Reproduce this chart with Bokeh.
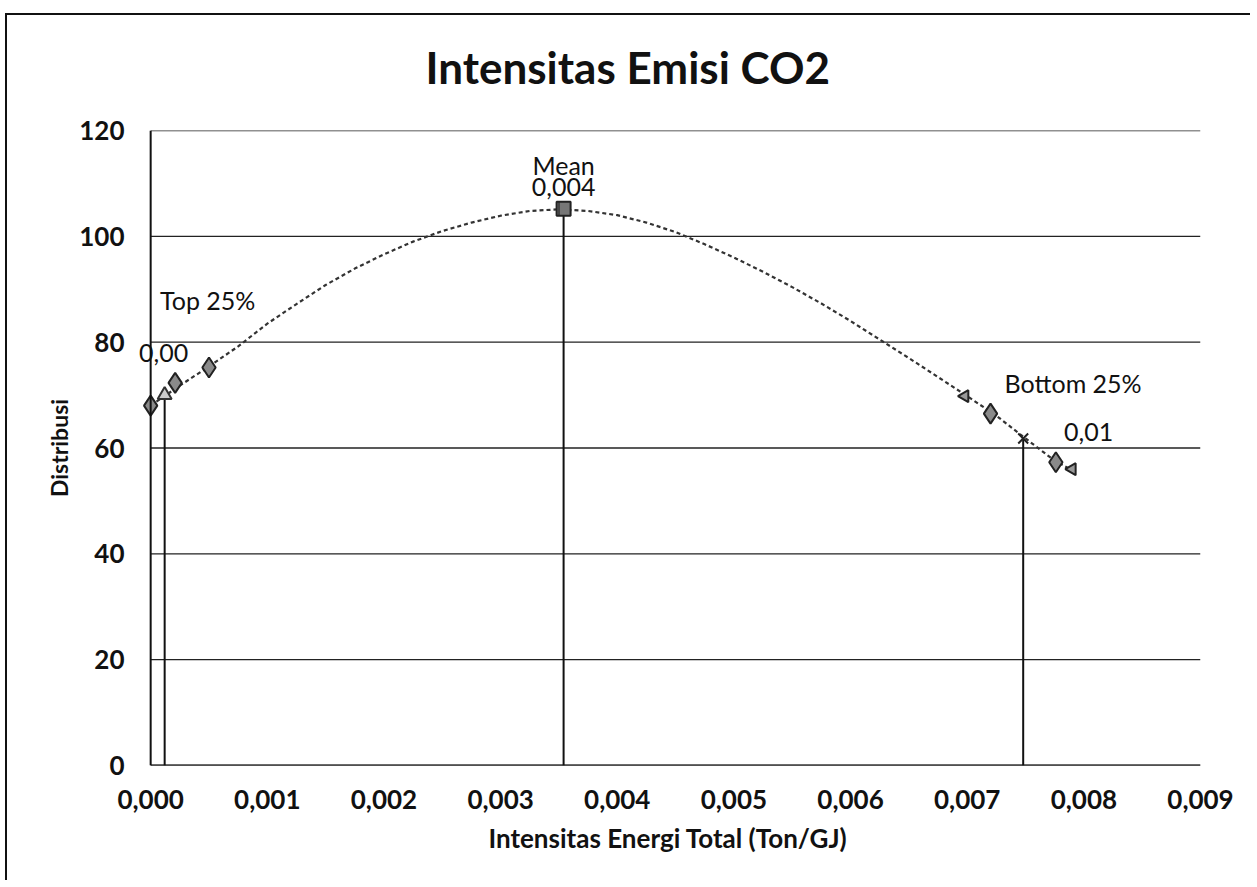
from bokeh.plotting import figure
from bokeh.models import Range1d, FixedTicker, Label, Span
from bokeh.embed import file_html
from bokeh.resources import INLINE

# ---- data ----
curve_x = [0.0, 0.00025, 0.0005, 0.00075, 0.001, 0.00125, 0.0015, 0.00175, 0.002,
           0.00225, 0.0025, 0.00275, 0.003, 0.00325, 0.0035, 0.00375, 0.004, 0.00425,
           0.0045, 0.00475, 0.005, 0.00525, 0.0055, 0.00575, 0.006, 0.00625, 0.0065,
           0.00675, 0.007, 0.00725, 0.0075, 0.00775, 0.0079]
curve_y = [68, 71.8, 75.4, 79.2, 83.5, 87.2, 90.8, 93.9, 96.6, 99.0, 101.0, 102.6,
           103.9, 104.8, 105.1, 104.8, 104.0, 102.6, 100.8, 98.5, 96.0, 93.3, 90.4,
           87.3, 84.0, 80.5, 77.0, 73.4, 69.8, 66.1, 61.8, 57.6, 55.8]

point_x = [0.0, 0.00021, 0.0005, 0.0072, 0.00776]
point_y = [68.0, 72.3, 75.2, 66.5, 57.3]
extra_x = [0.00698, 0.0079]
extra_y = [69.8, 56.0]

top_x, top_y = [0.00012], [70.0]
mean_x, mean_y = [0.00354], [105.2]
bot_x, bot_y = [0.00748], [61.8]

x_ticks = [0.0, 0.001, 0.002, 0.003, 0.004, 0.005, 0.006, 0.007, 0.008, 0.009]
x_tick_labels = ["0,000", "0,001", "0,002", "0,003", "0,004", "0,005", "0,006",
                 "0,007", "0,008", "0,009"]
y_ticks = [0, 20, 40, 60, 80, 100, 120]

FONT = "Lato"

p = figure(width=1250, height=880, output_backend="svg", toolbar_location=None,
           x_range=Range1d(-0.00013, 0.009), y_range=Range1d(0, 120),
           min_border_left=135, min_border_right=50, min_border_top=130,
           min_border_bottom=115)
p.border_fill_alpha = 0
p.styles = {"background": "linear-gradient(#111, #111) 5px 13px / 100% 2px no-repeat, "
                          "linear-gradient(#111, #111) 5px 13px / 2px 100% no-repeat, "
                          "white"}
p.outline_line_color = None
p.background_fill_color = "white"

p.title.text = "Intensitas Emisi CO2"
p.title.text_font = FONT
p.title.text_font_size = "44px"
p.title.text_font_style = "bold"
p.title.text_color = "#111"
p.title.align = "left"
p.title.offset = 290
p.title.standoff = 75

# axes
p.xaxis.ticker = FixedTicker(ticks=x_ticks)
p.xaxis.major_label_overrides = dict(zip(x_ticks, x_tick_labels))
p.yaxis.ticker = FixedTicker(ticks=y_ticks)
for ax in (p.xaxis[0], p.yaxis[0]):
    ax.major_tick_line_color = None
    ax.minor_tick_line_color = None
    ax.axis_line_color = None
    ax.major_label_text_font = FONT
    ax.major_label_text_font_style = "bold"
    ax.major_label_text_font_size = "26px"
    ax.major_label_text_color = "#111"
    ax.axis_label_text_font = FONT
    ax.axis_label_text_font_style = "bold"
    ax.axis_label_text_color = "#111"
p.xaxis.axis_label_text_font_size = "26px"
p.yaxis.axis_label_text_font_size = "23px"
p.xaxis.major_label_standoff = 18
p.yaxis.major_label_standoff = 5
p.xaxis.axis_label = "Intensitas Energi Total (Ton/GJ)"
p.xaxis.axis_label_standoff = 10
p.yaxis.axis_label = "Distribusi"
p.yaxis.axis_label_standoff = 3

p.xgrid.grid_line_color = None
p.ygrid.grid_line_color = None

# gridlines and axis lines spanning from x=0 to the last tick
n = len(y_ticks)
p.segment(x0=[x_ticks[0]] * n, y0=y_ticks, x1=[x_ticks[-1]] * n, y1=y_ticks,
          line_color="#222", line_width=1.3)
p.segment(x0=[x_ticks[0]], y0=[y_ticks[0]], x1=[x_ticks[-1]], y1=[y_ticks[0]],
          line_color="#111", line_width=2)
p.add_layout(Span(location=x_ticks[0], dimension="height", line_color="#111",
                  line_width=2))

# vertical reference lines
p.segment(x0=top_x + mean_x + bot_x, y0=[0, 0, 0],
          x1=top_x + mean_x + bot_x, y1=top_y + mean_y + bot_y,
          line_color="#111", line_width=2)

# curve
p.line(curve_x, curve_y, line_color="#333", line_width=2.2, line_dash="4 3")

# markers
p.scatter(point_x, point_y, marker="diamond", size=20, fill_color="#8a8a8a",
          line_color="#222", line_width=2)
p.scatter(extra_x, extra_y, marker="triangle", size=12, angle=1.57,
          fill_color="#999", line_color="#222", line_width=2)
p.scatter(top_x, top_y, marker="triangle", size=14, fill_color="#ccc",
          line_color="#333", line_width=2)
p.scatter(mean_x, mean_y, marker="square", size=14, fill_color="#777",
          line_color="#222", line_width=2, hatch_pattern="|", hatch_color="#111")
p.scatter(bot_x, bot_y, marker="x", size=14, line_color="#222", line_width=2)

# text labels
def lab(x, y, t, size, align="left", style="normal"):
    p.add_layout(Label(x=x, y=y, text=t, text_font=FONT, text_font_size=size,
                       text_align=align, text_baseline="middle", text_color="#111",
                       text_font_style=style))

lab(0.00008, 87.9, "Top 25%", "25px")
lab(-0.0001, 77.9, "0,00", "25px")
lab(0.00354, 113.4, "Mean", "25px", "center")
lab(0.00354, 109.4, "0,004", "25px", "center")
lab(0.00732, 72.2, "Bottom 25%", "25px")
lab(0.00783, 63.0, "0,01", "25px")

open("out.html", "w").write(file_html(p, INLINE))
